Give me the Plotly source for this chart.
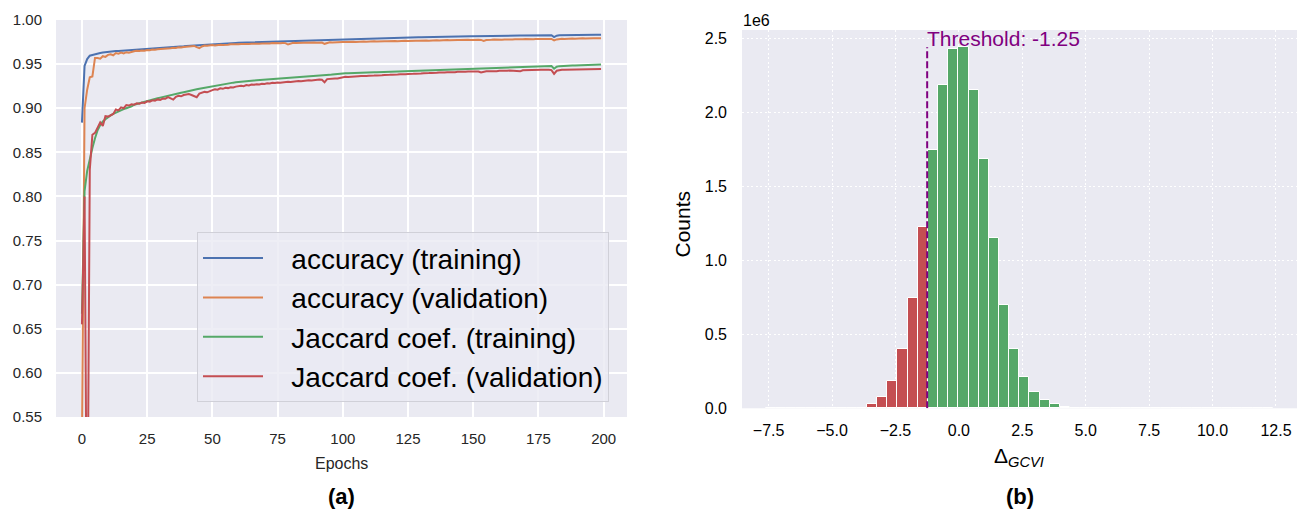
import plotly.graph_objects as go

# ---------------- data: panel (a) training curves ----------------
epochs = list(range(200))

acc_train = [
    .8837, .9480, .9557, .9595, .9604, .9614, .9620, .9626, .9631, .9636,
    .9640, .9643, .9646, .9648, .9650, .9652, .9654, .9656, .9657, .9659,
    .9660, .9661, .9662, .9664, .9664, .9665, .9668, .9670, .9673, .9675,
    .9678, .9680, .9683, .9686, .9689, .9692, .9694, .9697, .9699, .9702,
    .9705, .9707, .9710, .9712, .9715, .9716, .9719, .9722, .9725, .9728,
    .9730, .9731, .9733, .9734, .9735, .9736, .9737, .9738, .9739, .9740,
    .9741, .9742, .9740, .9744, .9744, .9745, .9746, .9747, .9748, .9749,
    .9750, .9752, .9753, .9754, .9755, .9756, .9757, .9758, .9759, .9760,
    .9761, .9762, .9763, .9764, .9765, .9766, .9767, .9768, .9769, .9770,
    .9771, .9772, .9773, .9774, .9775, .9776, .9777, .9778, .9779, .9780,
    .9782, .9783, .9783, .9784, .9785, .9786, .9787, .9787, .9788, .9789,
    .9790, .9791, .9791, .9792, .9793, .9794, .9795, .9795, .9793, .9797,
    .9797, .9798, .9799, .9800, .9800, .9801, .9802, .9802, .9803, .9804,
    .9804, .9805, .9806, .9806, .9807, .9808, .9808, .9809, .9810, .9810,
    .9811, .9811, .9812, .9812, .9813, .9813, .9813, .9814, .9814, .9815,
    .9815, .9815, .9816, .9816, .9817, .9817, .9818, .9818, .9819, .9819,
    .9820, .9820, .9821, .9821, .9822, .9822, .9822, .9823, .9823, .9824,
    .9824, .9824, .9825, .9825, .9826, .9826, .9826, .9827, .9827, .9828,
    .9828, .9806, .9822, .9827, .9828, .9829, .9829, .9829, .9830, .9830,
    .9830, .9831, .9831, .9831, .9832, .9832, .9832, .9833, .9833, .9834,
]

acc_val = [
    .5200, .9000, .9210, .9350, .9360, .9570, .9568, .9562, .9590, .9582,
    .9605, .9612, .9600, .9625, .9618, .9630, .9622, .9635, .9628, .9640,
    .9645, .9650, .9648, .9655, .9652, .9660, .9658, .9665, .9662, .9668,
    .9670, .9667, .9675, .9672, .9680, .9686, .9682, .9690, .9688, .9695,
    .9698, .9702, .9700, .9706, .9692, .9680, .9700, .9710, .9708, .9714,
    .9716, .9712, .9718, .9720, .9716, .9722, .9720, .9724, .9722, .9726,
    .9724, .9728, .9726, .9730, .9728, .9732, .9730, .9734, .9732, .9735,
    .9733, .9737, .9735, .9738, .9736, .9739, .9737, .9740, .9738, .9722,
    .9736, .9741, .9739, .9742, .9740, .9743, .9741, .9744, .9742, .9745,
    .9743, .9746, .9744, .9730, .9742, .9747, .9745, .9748, .9746, .9749,
    .9752, .9750, .9753, .9751, .9754, .9752, .9755, .9753, .9756, .9754,
    .9757, .9755, .9758, .9756, .9759, .9757, .9760, .9758, .9761, .9759,
    .9762, .9760, .9763, .9761, .9764, .9762, .9765, .9763, .9766, .9764,
    .9767, .9765, .9768, .9766, .9769, .9767, .9770, .9768, .9771, .9769,
    .9772, .9770, .9773, .9771, .9774, .9772, .9775, .9773, .9776, .9774,
    .9777, .9775, .9776, .9774, .9762, .9772, .9777, .9775, .9778, .9776,
    .9779, .9777, .9780, .9778, .9781, .9779, .9782, .9780, .9783, .9781,
    .9784, .9782, .9785, .9783, .9786, .9784, .9787, .9785, .9786, .9784,
    .9785, .9768, .9780, .9785, .9788, .9786, .9789, .9787, .9790, .9788,
    .9791, .9789, .9792, .9790, .9793, .9791, .9794, .9792, .9795, .9794,
]

jac_train = [
    .6670, .8060, .8290, .8440, .8550, .8660, .8750, .8810, .8850, .8875,
    .8900, .8918, .8935, .8950, .8963, .8975, .8990, .9000, .9010, .9020,
    .9040, .9049, .9057, .9064, .9072, .9080, .9088, .9096, .9104, .9112,
    .9120, .9128, .9135, .9142, .9150, .9158, .9163, .9170, .9176, .9182,
    .9190, .9196, .9202, .9208, .9214, .9220, .9226, .9232, .9238, .9244,
    .9250, .9255, .9260, .9265, .9270, .9275, .9280, .9285, .9290, .9294,
    .9298, .9302, .9305, .9308, .9310, .9312, .9314, .9316, .9318, .9320,
    .9322, .9324, .9326, .9328, .9330, .9332, .9334, .9336, .9338, .9340,
    .9342, .9344, .9346, .9348, .9350, .9353, .9356, .9358, .9360, .9362,
    .9365, .9367, .9370, .9372, .9375, .9378, .9382, .9386, .9390, .9393,
    .9396, .9397, .9396, .9398, .9399, .9400, .9401, .9402, .9403, .9404,
    .9406, .9407, .9408, .9409, .9410, .9411, .9412, .9414, .9415, .9417,
    .9418, .9419, .9420, .9421, .9422, .9423, .9424, .9425, .9426, .9427,
    .9428, .9429, .9430, .9431, .9432, .9433, .9434, .9435, .9436, .9437,
    .9438, .9440, .9441, .9442, .9443, .9444, .9445, .9446, .9447, .9448,
    .9449, .9450, .9451, .9452, .9453, .9454, .9455, .9456, .9457, .9458,
    .9459, .9460, .9461, .9462, .9463, .9464, .9465, .9466, .9460, .9467,
    .9468, .9469, .9470, .9471, .9472, .9473, .9474, .9475, .9476, .9477,
    .9478, .9448, .9470, .9477, .9480, .9481, .9482, .9483, .9484, .9485,
    .9486, .9487, .9488, .9489, .9490, .9491, .9492, .9493, .9494, .9496,
]

jac_val = [
    .6550, .8000, .3500, .8300, .8700, .8720, .8780, .8840, .8800, .8910,
    .8905, .8920, .8935, .8985, .8975, .9010, .9000, .9035, .9030, .9045,
    .9040, .9055, .9050, .9065, .9060, .9078, .9075, .9090, .9085, .9100,
    .9095, .9110, .9108, .9125, .9115, .9098, .9130, .9140, .9135, .9150,
    .9155, .9160, .9150, .9140, .9125, .9165, .9175, .9185, .9180, .9195,
    .9205, .9215, .9210, .9225, .9220, .9232, .9228, .9238, .9235, .9245,
    .9250, .9255, .9250, .9262, .9258, .9268, .9265, .9272, .9270, .9278,
    .9275, .9282, .9280, .9288, .9285, .9292, .9290, .9296, .9294, .9300,
    .9298, .9304, .9302, .9308, .9306, .9312, .9310, .9316, .9314, .9320,
    .9318, .9325, .9322, .9295, .9330, .9335, .9333, .9338, .9336, .9342,
    .9352, .9356, .9354, .9358, .9360, .9358, .9362, .9364, .9362, .9366,
    .9368, .9366, .9370, .9372, .9370, .9374, .9376, .9374, .9378, .9380,
    .9378, .9382, .9384, .9382, .9386, .9388, .9386, .9390, .9392, .9390,
    .9394, .9396, .9394, .9398, .9400, .9398, .9402, .9404, .9402, .9406,
    .9408, .9406, .9410, .9408, .9412, .9410, .9414, .9412, .9415, .9414,
    .9416, .9418, .9416, .9405, .9414, .9418, .9420, .9418, .9422, .9420,
    .9424, .9422, .9426, .9424, .9428, .9426, .9430, .9428, .9418, .9430,
    .9432, .9430, .9434, .9432, .9436, .9434, .9436, .9435, .9437, .9436,
    .9432, .9390, .9425, .9434, .9436, .9437, .9438, .9438, .9439, .9439,
    .9440, .9440, .9441, .9441, .9442, .9442, .9443, .9443, .9443, .9444,
]

series_names = ["accuracy (training)", "accuracy (validation)",
                "Jaccard coef. (training)", "Jaccard coef. (validation)"]
series_values = [acc_train, acc_val, jac_train, jac_val]
series_colors = ["#4C72B0", "#DD8452", "#55A868", "#C44E52"]

# ---------------- data: panel (b) histogram of Delta_GCVI ----------------
bin_start = -7.62
bin_width = 0.4
counts = [
    10, 10, 20, 20, 30, 50, 100, 300, 1200, 5000,
    27000, 78000, 186000, 400000, 743000, 1222000, 1745000, 2184000, 2426000, 2437000,
    2150000, 1680000, 1153000, 700000, 400000, 214000, 112000, 56000, 27000, 11000,
    4000, 1500, 600, 300, 150, 100, 80, 60, 50, 40,
    30, 30, 20, 20, 20, 10, 10, 10, 10, 10,
]
threshold = -1.25

# ---------------- figure ----------------
W, H = 1306, 512


def px_x(page_x):
    return page_x / W


def px_y(page_y):
    return 1 - page_y / H


fig = go.Figure()

for name, vals, col in zip(series_names, series_values, series_colors):
    fig.add_trace(go.Scatter(x=epochs, y=vals, mode="lines",
                             name="\u00a0\u00a0\u00a0" + name,
                             line=dict(color=col, width=2),
                             xaxis="x", yaxis="y"))

centers = [bin_start + bin_width * (i + 0.5) for i in range(len(counts))]
bar_colors = ["#C44E52" if c < threshold else "#55A868" for c in centers]
fig.add_trace(go.Bar(x=centers, y=counts, width=bin_width,
                     marker=dict(color=bar_colors, line=dict(color="white", width=1)),
                     showlegend=False, xaxis="x2", yaxis="y2"))

fig.add_trace(go.Scatter(x=[threshold, threshold], y=[0, max(counts)], mode="lines",
                         line=dict(color="#800080", width=2, dash="7px,3px"),
                         showlegend=False, xaxis="x2", yaxis="y2"))

font_fam = "Arial, Liberation Sans, sans-serif"
tick_col = "#262626"

fig.update_layout(
    width=W, height=H,
    margin=dict(l=0, r=0, t=0, b=0, autoexpand=False),
    paper_bgcolor="white", plot_bgcolor="#EAEAF2",
    font=dict(family=font_fam, color=tick_col),
    barmode="overlay", bargap=0,
    xaxis=dict(domain=[px_x(56), px_x(627)], range=[-9.95, 208.95], dtick=25, tick0=0,
               automargin=False,
               showgrid=True, gridcolor="white", gridwidth=1.6, zeroline=False,
               showline=False, ticks="", tickfont=dict(size=15, color=tick_col),
               ticklabelstandoff=11, anchor="y"),
    yaxis=dict(domain=[px_y(417), px_y(20)], range=[0.55, 1.0], dtick=0.05, tick0=0.55,
               automargin=False,
               tickformat=".2f", showgrid=True, gridcolor="white", gridwidth=1.6,
               zeroline=False, showline=False, ticks="", tickfont=dict(size=15, color=tick_col),
               ticklabelstandoff=13, anchor="x"),
    xaxis2=dict(domain=[px_x(742), px_x(1297)], range=[-8.55, 13.33],
                automargin=False,
                tickvals=[-7.5, -5, -2.5, 0, 2.5, 5, 7.5, 10, 12.5], tickformat=".1f",
                showgrid=True, gridcolor="white", gridwidth=1.2, griddash="2px,2.5px",
                zeroline=False, showline=False, ticks="",
                tickfont=dict(size=16, color="black"), ticklabelstandoff=11,
                anchor="y2"),
    yaxis2=dict(domain=[px_y(408.3), px_y(30)], range=[0, 2.554e6],
                automargin=False,
                tickvals=[0, 5e5, 1e6, 1.5e6, 2e6, 2.5e6],
                ticktext=["0.0", "0.5", "1.0", "1.5", "2.0", "2.5"],
                showgrid=True, gridcolor="white", gridwidth=1.2, griddash="2px,2.5px",
                zeroline=False, showline=False, ticks="",
                tickfont=dict(size=16, color="black"), ticklabelstandoff=14,
                anchor="x2"),
    legend=dict(x=px_x(197), y=px_y(232.3), xanchor="left", yanchor="top",
                font=dict(size=28, color="black"), bgcolor="rgba(234,234,242,0.8)",
                bordercolor="#D0D0D8", borderwidth=1, itemwidth=60),
    annotations=[
        # axis titles
        dict(text="Epochs", x=px_x(341.5), y=px_y(463), xref="paper", yref="paper",
             xanchor="center", yanchor="middle", showarrow=False,
             font=dict(size=16, color=tick_col)),
        dict(text="Counts", x=px_x(681.5), y=px_y(224), xref="paper", yref="paper",
             xanchor="center", yanchor="middle", showarrow=False, textangle=-90,
             font=dict(size=21, color="black")),
        dict(text="Δ<sub><i>GCVI</i></sub>", x=px_x(1019), y=px_y(457),
             xref="paper", yref="paper", xanchor="center", yanchor="middle",
             showarrow=False, font=dict(size=21, color="black")),
        # threshold label
        dict(text="Threshold: -1.25", x=threshold, y=max(counts), xref="x2", yref="y2",
             xanchor="left", yanchor="bottom", showarrow=False, xshift=-2, yshift=-5,
             font=dict(size=21, color="#800080")),
        # offset text of the count axis
        dict(text="1e6", x=px_x(741), y=px_y(20), xref="paper", yref="paper",
             xanchor="left", yanchor="middle", showarrow=False,
             font=dict(size=16, color="black")),
        # panel letters
        dict(text="<b>(a)</b>", x=px_x(342), y=px_y(496), xref="paper", yref="paper",
             xanchor="center", yanchor="middle", showarrow=False,
             font=dict(size=22, color="black")),
        dict(text="<b>(b)</b>", x=px_x(1020), y=px_y(496), xref="paper", yref="paper",
             xanchor="center", yanchor="middle", showarrow=False,
             font=dict(size=22, color="black")),
    ],
)

fig.write_html("out.html")
